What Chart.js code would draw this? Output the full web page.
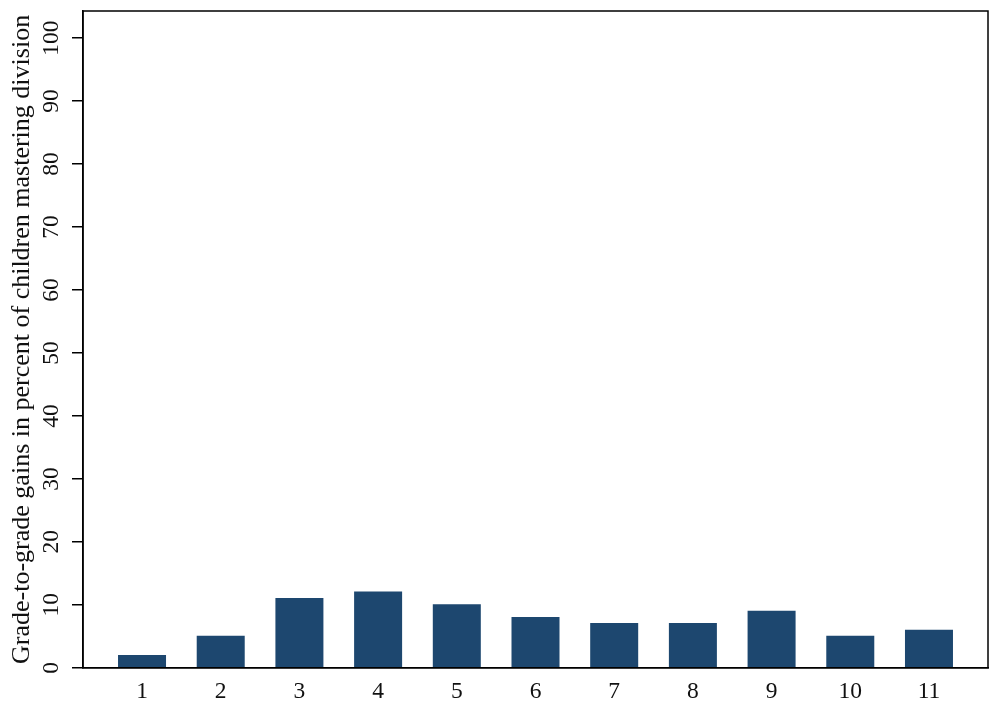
<!DOCTYPE html>
<html>
<head>
<meta charset="utf-8">
<script src="https://cdn.jsdelivr.net/npm/chart.js@4.4.0/dist/chart.umd.min.js"></script>
<style>
  html, body { margin: 0; padding: 0; background: #ffffff; }
  #wrap { width: 1000px; height: 713px; position: relative; }
</style>
</head>
<body>
<div id="wrap"><canvas id="c" width="1000" height="713"></canvas></div>
<script>
const grades = [1, 2, 3, 4, 5, 6, 7, 8, 9, 10, 11];
const gains = [2.05, 5.1, 11.1, 12.1, 10.1, 8.05, 7.1, 7.1, 9.05, 5.1, 6.05];
const yTickValues = [0, 10, 20, 30, 40, 50, 60, 70, 80, 90, 100];
const yTitle = 'Grade-to-grade gains in percent of children mastering division';

const FONT = "'Liberation Serif', 'Times New Roman', serif";
const BAR_COLOR = '#1d476f';

const framePlugin = {
  id: 'frame',
  afterDraw(chart) {
    const ctx = chart.ctx;
    const a = chart.chartArea;
    const ys = chart.scales.y;
    ctx.save();
    ctx.strokeStyle = '#000';
    ctx.lineWidth = 1.5;
    ctx.strokeRect(a.left, a.top, a.right - a.left, a.bottom - a.top);
    // rotated y tick labels
    ctx.fillStyle = '#111';
    ctx.font = "23.5px " + FONT;
    ctx.textAlign = 'center';
    ctx.textBaseline = 'middle';
    yTickValues.forEach(v => {
      const py = ys.getPixelForValue(v);
      ctx.save();
      ctx.translate(a.left - 31, py);
      ctx.rotate(-Math.PI / 2);
      ctx.fillText(String(v), 0, 0);
      ctx.restore();
    });
    ctx.restore();
  }
};

new Chart(document.getElementById('c'), {
  type: 'bar',
  data: {
    datasets: [{
      data: grades.map((g, i) => ({ x: g, y: gains[i] })),
      backgroundColor: BAR_COLOR,
      borderWidth: 0,
      barPercentage: 0.61,
      categoryPercentage: 1.0
    }]
  },
  options: {
    responsive: false,
    animation: false,
    devicePixelRatio: 1,
    layout: { padding: { left: 0, right: 12, top: 11, bottom: -3 } },
    plugins: { legend: { display: false }, tooltip: { enabled: false } },
    scales: {
      x: {
        type: 'linear',
        min: 0.25,
        max: 11.75,
        offset: false,
        afterBuildTicks(scale) { scale.ticks = grades.map(v => ({ value: v })); },
        grid: { display: false, drawTicks: false },
        border: { display: true, color: '#000', width: 1.5 },
        ticks: {
          color: '#111',
          font: { family: FONT, size: 23.5 },
          padding: 10,
          maxRotation: 0,
          autoSkip: false,
          callback: (v) => String(v)
        }
      },
      y: {
        type: 'linear',
        min: 0,
        max: 104.3,
        afterBuildTicks(scale) { scale.ticks = yTickValues.map(v => ({ value: v })); },
        grid: { display: true, drawOnChartArea: false, drawTicks: true, tickLength: 11, color: '#000', lineWidth: 1.5 },
        border: { display: true, color: '#000', width: 1.5 },
        ticks: { display: false },
        title: {
          display: true,
          text: yTitle,
          color: '#111',
          font: { family: FONT, size: 26 },
          padding: { top: 6.5, bottom: 34.3 }
        }
      }
    }
  },
  plugins: [framePlugin]
});
</script>
</body>
</html>
